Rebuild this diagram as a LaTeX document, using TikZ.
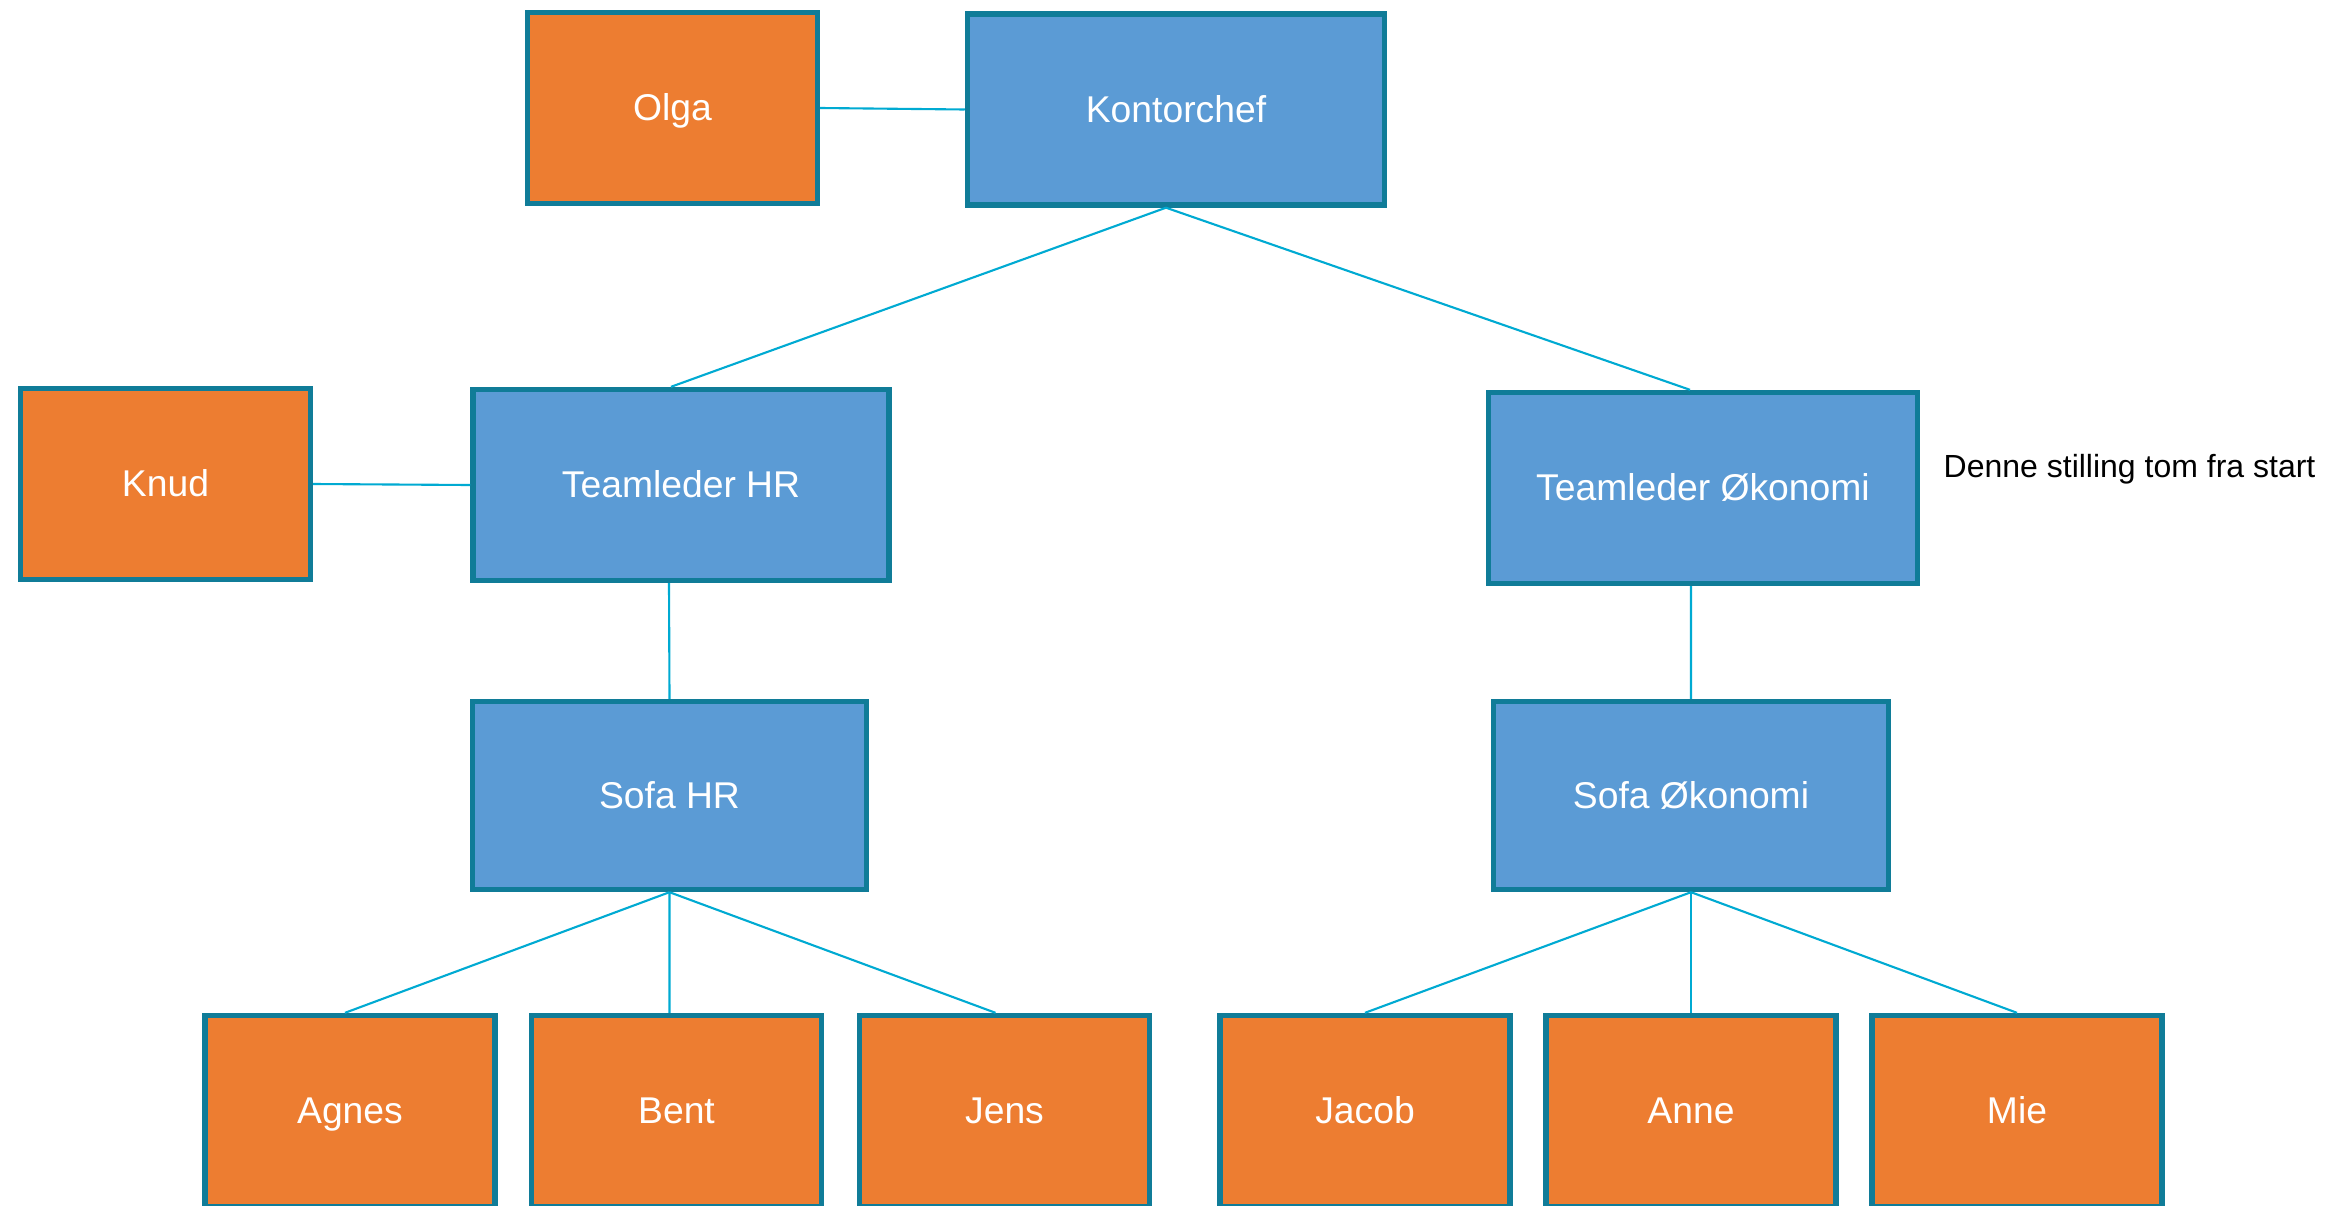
\documentclass[tikz,border=0pt]{standalone}
\usepackage{fontspec}
\setmainfont{Liberation Sans}
\definecolor{orgbox}{RGB}{237,125,49}
\definecolor{bluebox}{RGB}{91,155,213}
\definecolor{edgeteal}{RGB}{16,124,152}
\definecolor{linkcyan}{RGB}{0,170,210}
\begin{document}
\begin{tikzpicture}[x=0.01cm,y=-0.01cm,
  box/.style={draw=edgeteal, line width=1.5pt, text=white, inner sep=0pt,
    font=\fontsize{10.6}{12}\selectfont, text height=0.72em, text depth=0pt,
    minimum height=1.91cm},
  orangebox/.style={box, fill=orgbox, minimum width=2.9cm},
  bluenode/.style={box, fill=bluebox},
  link/.style={draw=linkcyan, line width=0.6pt}]
\useasboundingbox (0,0) rectangle (2327,1206);
\clip (0,0) rectangle (2327,1206);
% top row
\node[orangebox] (olga) at (672.5,108) {Olga};
\node[bluenode, minimum width=4.17cm] (kontor) at (1176,109.5) {Kontorchef};
% second row
\node[orangebox] (knud) at (165.5,484) {Knud};
\node[bluenode, minimum width=4.16cm] (tlhr) at (681,485) {Teamleder HR};
\node[bluenode, minimum width=4.29cm] (tlok) at (1703,488) {Teamleder Økonomi};
\node[anchor=west, inner sep=0pt, font=\fontsize{9.1}{11}\selectfont] (note) at (1943,469) {Denne stilling tom fra start};
% third row
\node[bluenode, minimum width=3.94cm, minimum height=1.88cm] (sofahr) at (669.5,795.5) {Sofa HR};
\node[bluenode, minimum width=3.95cm, minimum height=1.88cm] (sofaok) at (1691,795.5) {Sofa Økonomi};
% bottom row
\node[orangebox] (agnes) at (350,1111) {Agnes};
\node[orangebox] (bent) at (676.5,1111) {Bent};
\node[orangebox] (jens) at (1004.5,1111) {Jens};
\node[orangebox] (jacob) at (1365,1111) {Jacob};
\node[orangebox] (anne) at (1691,1111) {Anne};
\node[orangebox] (mie) at (2017,1111) {Mie};
% connectors
\draw[link] (olga.east) -- (kontor.west);
\draw[link] (knud.east) -- (tlhr.west);
\draw[link] ([xshift=-0.1cm]kontor.south) -- ([xshift=-0.1cm]tlhr.north);
\draw[link] ([xshift=-0.1cm]kontor.south) -- ([xshift=-0.13cm]tlok.north);
\draw[link] ([xshift=-0.12cm]tlhr.south) -- (sofahr.north);
\draw[link] ([xshift=-0.12cm]tlok.south) -- (sofaok.north);
\draw[link] (sofahr.south) -- ([xshift=-0.05cm]agnes.north);
\draw[link] (sofahr.south) -- ([xshift=-0.07cm]bent.north);
\draw[link] (sofahr.south) -- ([xshift=-0.09cm]jens.north);
\draw[link] (sofaok.south) -- (jacob.north);
\draw[link] (sofaok.south) -- (anne.north);
\draw[link] (sofaok.south) -- (mie.north);
\end{tikzpicture}
\end{document}
